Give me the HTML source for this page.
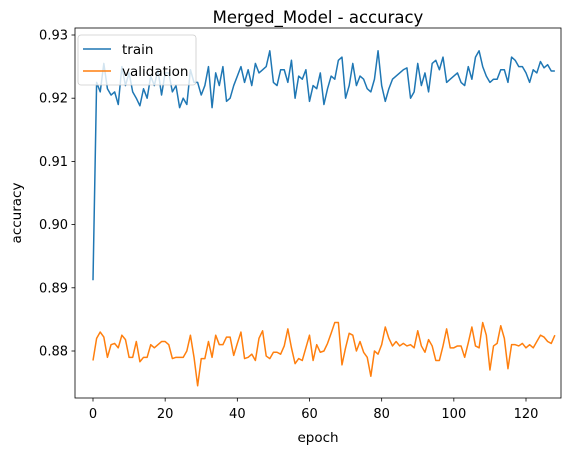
<!DOCTYPE html>
<html><head><meta charset="utf-8"><style>
body{margin:0;background:#fff;}
svg text{font-family:"DejaVu Sans","Liberation Sans",sans-serif;fill:#000;}
</style></head><body>
<svg id="chart" width="576" height="455" viewBox="0 0 576 455" xmlns="http://www.w3.org/2000/svg">
<rect x="0" y="0" width="576" height="455" fill="#fff"/>
<text x="318" y="23" font-size="16.5" text-anchor="middle">Merged_Model - accuracy</text>
<g id="marks"></g>
<g id="axes"></g>
<rect x="75" y="28" width="486" height="370" fill="none" stroke="#000" stroke-width="0.8"/>
<text x="318" y="442" font-size="13.5" text-anchor="middle">epoch</text>
<text x="0" y="0" font-size="13.5" text-anchor="middle" transform="translate(21,213) rotate(-90)">accuracy</text>
<g>
<rect x="78" y="35" width="118" height="50" rx="3" fill="#fff" fill-opacity="0.8" stroke="#ccc" stroke-width="0.8"/>
<g><line x1="83" y1="49" x2="111" y2="49" stroke="#1f77b4" stroke-width="1.5"/><text x="122" y="54" font-size="13.5">train</text></g>
<g><line x1="83" y1="71" x2="111" y2="71" stroke="#ff7f0e" stroke-width="1.5"/><text x="122" y="76" font-size="13.5">validation</text></g>
</g>
</svg>
<script>
const xTicks = [0,20,40,60,80,100,120];
const yTicks = [0.88,0.89,0.90,0.91,0.92,0.93];
const yTickLabels = ["0.88","0.89","0.90","0.91","0.92","0.93"];
const train = [0.8912,0.9225,0.921,0.9255,0.9215,0.9205,0.921,0.919,0.925,0.922,0.924,0.921,0.920,0.9188,0.9215,0.920,0.9235,0.922,0.9245,0.9205,0.924,0.924,0.921,0.922,0.9185,0.920,0.919,0.9245,0.9225,0.9225,0.9205,0.922,0.925,0.9185,0.924,0.922,0.925,0.9195,0.920,0.922,0.9235,0.925,0.9225,0.9245,0.922,0.9255,0.924,0.9245,0.925,0.9275,0.9225,0.922,0.9245,0.9245,0.9225,0.926,0.920,0.9235,0.923,0.9245,0.9195,0.922,0.9215,0.924,0.919,0.9215,0.9235,0.923,0.926,0.9265,0.920,0.922,0.9255,0.922,0.9235,0.923,0.9215,0.921,0.923,0.9275,0.922,0.9195,0.9215,0.923,0.9235,0.924,0.9245,0.9248,0.920,0.921,0.9255,0.922,0.924,0.921,0.9255,0.926,0.9245,0.9265,0.9225,0.923,0.9235,0.924,0.9225,0.922,0.925,0.923,0.9265,0.9275,0.925,0.9235,0.9225,0.923,0.923,0.9245,0.9245,0.9225,0.9265,0.926,0.925,0.925,0.924,0.9225,0.9245,0.924,0.9258,0.9248,0.9253,0.9243,0.9243];
const validation = [0.8785,0.882,0.883,0.8822,0.879,0.881,0.8812,0.8805,0.8825,0.8818,0.879,0.879,0.8815,0.8783,0.879,0.879,0.881,0.8805,0.881,0.8815,0.8815,0.881,0.8788,0.879,0.879,0.879,0.880,0.8825,0.879,0.8745,0.8788,0.8788,0.8815,0.879,0.8825,0.881,0.881,0.8822,0.8822,0.8793,0.8812,0.883,0.8788,0.879,0.8795,0.8785,0.882,0.8832,0.8792,0.8788,0.8798,0.8798,0.8795,0.8808,0.8835,0.8805,0.878,0.8788,0.8785,0.8805,0.8825,0.8785,0.881,0.8798,0.880,0.8812,0.8828,0.8845,0.8845,0.8778,0.8805,0.8828,0.8825,0.880,0.8815,0.8798,0.879,0.876,0.880,0.8795,0.881,0.8838,0.882,0.8808,0.8815,0.8808,0.8812,0.8808,0.881,0.8805,0.8832,0.8808,0.8798,0.8818,0.8808,0.8785,0.8785,0.8808,0.8835,0.8805,0.8805,0.8808,0.8808,0.879,0.8813,0.8838,0.8808,0.8805,0.8845,0.8825,0.877,0.8808,0.8812,0.884,0.882,0.8772,0.881,0.881,0.8808,0.8812,0.8805,0.881,0.8805,0.8815,0.8825,0.8822,0.8815,0.8812,0.8825];
const NS="http://www.w3.org/2000/svg";
function xs(v){return 93+(v-0)*(526-93)/120;}
function ys(v){return 351-(v-0.88)*(351-35)/0.05;}
const axes=document.getElementById('axes'), marks=document.getElementById('marks');
function mk(t,a,p){const e=document.createElementNS(NS,t);for(const k in a)e.setAttribute(k,a[k]);p.appendChild(e);return e;}
xTicks.forEach(t=>{
  const g=mk('g',{},axes);
  
  
  mk('line',{x1:xs(t),x2:xs(t),y1:398,y2:401.5,stroke:'#000','stroke-width':0.8},g);
  const tx=mk('text',{x:xs(t),y:418,'font-size':13,'text-anchor':'middle'},g);tx.textContent=t;
});
yTicks.forEach((t,i)=>{
  const g=mk('g',{},axes);
  
  
  mk('line',{x1:71.5,x2:75,y1:ys(t),y2:ys(t),stroke:'#000','stroke-width':0.8},g);
  const tx=mk('text',{x:68,y:ys(t)+4.5,'font-size':13,'text-anchor':'end'},g);tx.textContent=yTickLabels[i];
});
function line(arr,color,name){
  const d=arr.map((v,i)=>(i?'L':'M')+xs(i).toFixed(2)+','+ys(v).toFixed(2)).join('');
  const p=mk('path',{d:d,fill:'none',stroke:color,'stroke-width':1.5,'stroke-linejoin':'round'},marks);
  
  
}
line(train,'#1f77b4','train-line');
line(validation,'#ff7f0e','validation-line');
</script>
</body></html>
